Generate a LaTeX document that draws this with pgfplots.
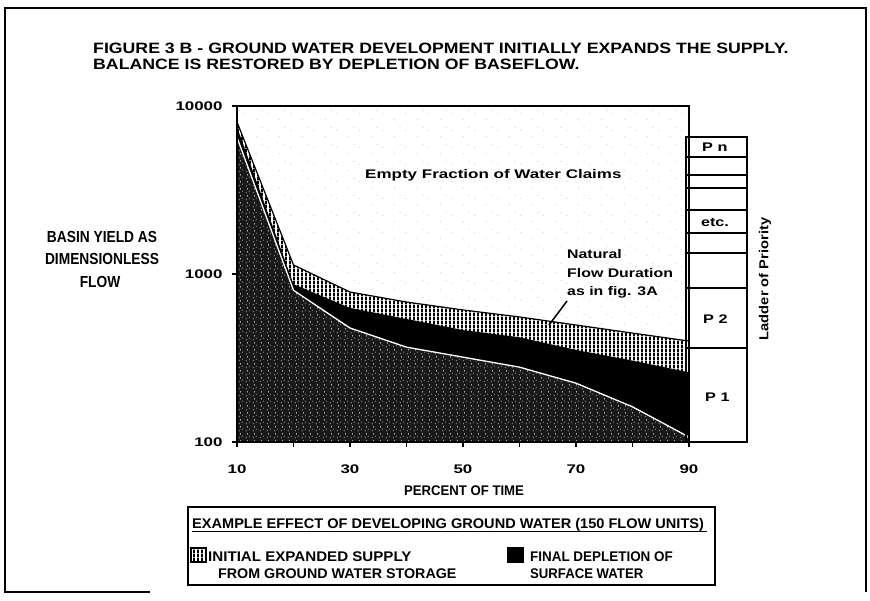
\documentclass[border=0pt]{standalone}
\usepackage{pgfplots}
\pgfplotsset{compat=1.18}
\usepackage{fontspec}
\setmainfont{Liberation Sans}
\usetikzlibrary{patterns}

\pgfdeclarepatternformonly{vstripes}{\pgfqpoint{0pt}{0pt}}{\pgfqpoint{4.4pt}{4pt}}{\pgfqpoint{4.4pt}{4pt}}{%
  \pgfpathrectangle{\pgfqpoint{0pt}{-0.1pt}}{\pgfqpoint{2.2pt}{4.2pt}}\pgfusepath{fill}}
\pgfdeclarepatternformonly{specks}{\pgfqpoint{0pt}{0pt}}{\pgfqpoint{7pt}{7pt}}{\pgfqpoint{7pt}{7pt}}{%
  \pgfpathrectangle{\pgfqpoint{1pt}{1pt}}{\pgfqpoint{0.9pt}{0.9pt}}%
  \pgfpathrectangle{\pgfqpoint{4.5pt}{3pt}}{\pgfqpoint{1.2pt}{0.7pt}}%
  \pgfpathrectangle{\pgfqpoint{2.5pt}{5.2pt}}{\pgfqpoint{0.7pt}{1.1pt}}%
  \pgfusepath{fill}}
\pgfdeclarepatternformonly{faint}{\pgfqpoint{0pt}{0pt}}{\pgfqpoint{23pt}{17pt}}{\pgfqpoint{23pt}{17pt}}{%
  \pgfpathrectangle{\pgfqpoint{3pt}{4pt}}{\pgfqpoint{0.8pt}{0.8pt}}%
  \pgfpathrectangle{\pgfqpoint{15pt}{11pt}}{\pgfqpoint{0.8pt}{0.8pt}}%
  \pgfpathrectangle{\pgfqpoint{9pt}{14pt}}{\pgfqpoint{0.8pt}{0.8pt}}%
  \pgfusepath{fill}}

\newcommand\T[3]{\scalebox{#2}[1]{\fontsize{#1}{#1}\selectfont #3}}
\newcommand\tkl[1]{\T{12.5}{1.35}{\bfseries #1}}
\newcommand\lgd[2]{\T{14}{#1}{\bfseries #2}}

\begin{document}
\begin{tikzpicture}
\path[use as bounding box] (0pt,0pt) rectangle (870pt,-600pt);
\begin{axis}[
  at={(237pt,-442pt)}, anchor=south west,
  width=452pt, height=336pt, scale only axis,
  xmin=10, xmax=90, ymode=log, ymin=100, ymax=10000,
  axis line style={line width=1.5pt},
  xtick={10,20,...,90},
  xticklabels={\tkl{10},,\tkl{30},,\tkl{50},,\tkl{70},,\tkl{90}},
  ytick={100,1000,10000},
  yticklabels={\tkl{100},\tkl{1000},\tkl{10000}},
  yminorticks=false,
  tick align=outside, xtick pos=left, ytick pos=left,
  major tick length=5pt,
  tick style={line width=1.2pt, black},
  xticklabel style={yshift=-14pt},
  yticklabel style={xshift=-6pt},
  axis on top,
]
% faint specks in the empty fraction
\addplot[draw=none, pattern=faint, pattern color=black!35] coordinates {(10,10000) (90,10000)} \closedcycle;
% initial expanded supply (top of striped band)
\addplot[draw=none, fill=white] coordinates {
 (10,8030) (20,1132) (30,781) (40,681) (50,611) (60,555) (70,497) (80,445) (90,399)} \closedcycle;
\addplot[draw=none, pattern=vstripes, pattern color=black] coordinates {
 (10,8030) (20,1132) (30,781) (40,681) (50,611) (60,555) (70,497) (80,445) (90,399)} \closedcycle;
\addplot[black, line width=1.2pt] coordinates {
 (10,8030) (20,1132) (30,781) (40,681) (50,611) (60,555) (70,497) (80,445) (90,399)};
% natural flow duration (top of black band)
\addplot[draw=none, fill=black] coordinates {
 (10,7500) (20,870) (30,628) (40,540) (50,464) (60,420) (70,353) (80,305) (90,260)} \closedcycle;
% final depleted flow (white line, stippled below)
\addplot[draw=none, fill=black!90] coordinates {
 (10,6500) (20,800) (30,477) (40,367) (50,320) (60,279) (70,224) (80,162) (90,107)} \closedcycle;
\addplot[draw=none, pattern=specks, pattern color=white] coordinates {
 (10,6500) (20,800) (30,477) (40,367) (50,320) (60,279) (70,224) (80,162) (90,107)} \closedcycle;
\addplot[white, line width=1.3pt] coordinates {
 (10,6500) (20,800) (30,477) (40,367) (50,320) (60,279) (70,224) (80,162) (90,107)};
\end{axis}

\begin{scope}[x=1pt,y=-1pt]
% outer frame
\draw[line width=1.3pt] (150,592) -- (5,592) -- (5,8) -- (866,8) -- (866,592);
% title
\node[anchor=base west, inner sep=0] at (93,53) {\T{15}{1.18}{\bfseries FIGURE 3 B - GROUND WATER DEVELOPMENT INITIALLY EXPANDS THE SUPPLY.}};
\node[anchor=base west, inner sep=0] at (93,69) {\T{15}{1.18}{\bfseries BALANCE IS RESTORED BY DEPLETION OF BASEFLOW.}};
% y label
\node[anchor=base, inner sep=0] at (102,242) {\T{16}{0.86}{\bfseries BASIN YIELD AS}};
\node[anchor=base, inner sep=0] at (102,264) {\T{16}{0.86}{\bfseries DIMENSIONLESS}};
\node[anchor=base, inner sep=0] at (100,287) {\T{16}{0.86}{\bfseries FLOW}};
% x label
\node[anchor=base, inner sep=0] at (464,495) {\lgd{0.94}{PERCENT OF TIME}};
% annotations
\node[anchor=base west, inner sep=0] at (365,178) {\T{12.5}{1.36}{\bfseries Empty Fraction of Water Claims}};
\node[anchor=base west, inner sep=0] at (567,258) {\T{12.5}{1.27}{\bfseries Natural}};
\node[anchor=base west, inner sep=0] at (567,277) {\T{12.5}{1.27}{\bfseries Flow Duration}};
\node[anchor=base west, inner sep=0] at (567,295) {\T{12.5}{1.27}{\bfseries as in fig. 3A}};
\draw[line width=1.5pt] (567,301) -- (549,325);
% ladder of priority
\draw[line width=1.3pt] (686,137) rectangle (747,442);
\foreach \yy in {157,175,188,210,233,253,288,348}
  \draw[line width=1.3pt] (686,\yy) -- (747,\yy);
\node[anchor=base west, inner sep=0] at (702,151) {\T{12.5}{1.3}{\bfseries P n}};
\node[anchor=base, inner sep=0] at (715,226) {\T{12.5}{1.3}{\bfseries etc.}};
\node[anchor=base west, inner sep=0] at (703,323) {\T{12.5}{1.3}{\bfseries P 2}};
\node[anchor=base west, inner sep=0] at (705,401) {\T{12.5}{1.3}{\bfseries P 1}};
\node[rotate=90, inner sep=0] at (765,279) {\T{13}{1.13}{\bfseries Ladder of Priority}};
% legend
\draw[line width=1.5pt] (188,507) rectangle (715,585);
\node[anchor=base west, inner sep=0] at (192,528) {\lgd{1.04}{EXAMPLE EFFECT OF DEVELOPING GROUND WATER (150 FLOW UNITS)}};
\draw[line width=1pt] (192,531) -- (707,531);
\fill[white] (191,548) rectangle (206,562);
\fill[pattern=vstripes, pattern color=black] (191,548) rectangle (206,562);
\draw[line width=1.2pt] (191,548) rectangle (206,562);
\node[anchor=base west, inner sep=0] at (208,561) {\lgd{1.08}{INITIAL EXPANDED SUPPLY}};
\node[anchor=base west, inner sep=0] at (218,578) {\lgd{1.02}{FROM GROUND WATER STORAGE}};
\fill[black] (507,547) rectangle (524,563);
\node[anchor=base west, inner sep=0] at (530,561) {\lgd{0.96}{FINAL DEPLETION OF}};
\node[anchor=base west, inner sep=0] at (530,578) {\lgd{0.94}{SURFACE WATER}};
\end{scope}
\end{tikzpicture}
\end{document}
